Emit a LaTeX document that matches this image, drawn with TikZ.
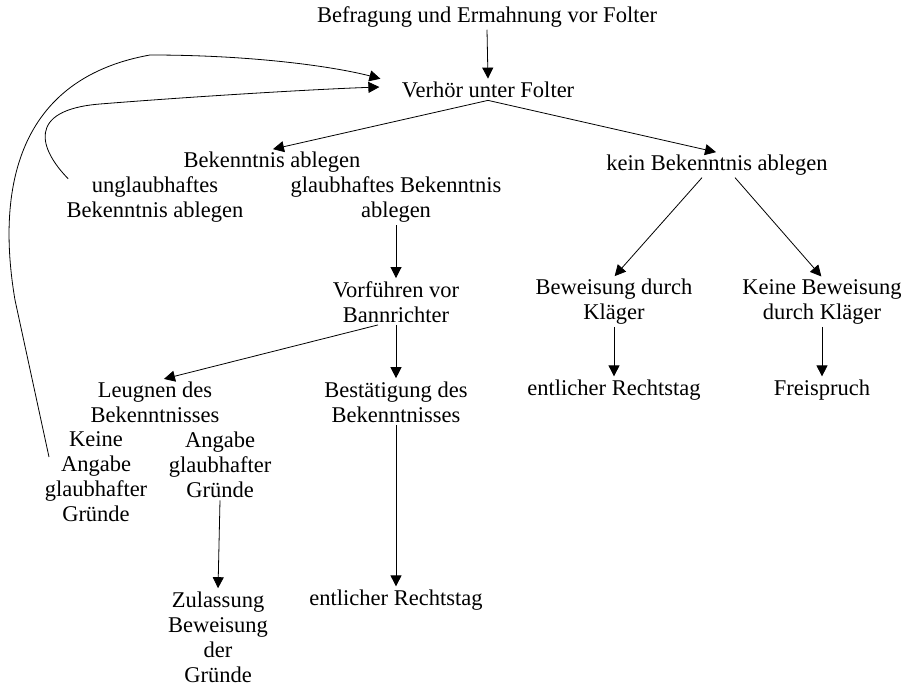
\documentclass[tikz,border=0pt]{standalone}
\usepackage{fontspec}
\setmainfont{Liberation Serif}
\usetikzlibrary{arrows.meta}

\begin{document}
\begin{tikzpicture}[>={Triangle[length=11pt,width=11pt]}, x=1pt, y=-1pt,
                    shorten >=1pt, line width=0.8pt,
                    every node/.style={align=center, inner sep=2pt, font=\fontsize{22.5}{25}\selectfont}]
                    \useasboundingbox (0,0) rectangle (907,687);

                    \node (befr) at (487,17) {Befragung und Ermahnung vor Folter};
                    \node (verh) at (488,90) {Verhör unter Folter};
                    \node (bek) at (272,162) {Bekenntnis ablegen};
                    \node (ungl) at (155,200) {unglaubhaftes\\Bekenntnis ablegen};
                    \node (glaub) at (396,200) {glaubhaftes Bekenntnis\\ablegen};
                    \node (vor) at (396,302) {Vorführen vor\\Bannrichter};
                    \node (leug) at (155,402) {Leugnen des\\Bekenntnisses};
                    \node (best) at (396,402) {Bestätigung des\\Bekenntnisses};
                    \node (keine) at (96,477) {Keine\\Angabe\\glaubhafter\\Gründe};
                    \node (angabe) at (220,465) {Angabe\\glaubhafter\\Gründe};
                    \node (zul) at (218,637) {Zulassung\\Beweisung\\der\\Gründe};
                    \node (rt1) at (396,600) {entlicher Rechtstag};
                    \node (kein) at (717,165) {kein Bekenntnis ablegen};
                    \node (bew) at (614,302) {Beweisung durch\\Kläger};
                    \node (kbew) at (822,302) {Keine Beweisung\\durch Kläger};
                    \node (rt2) at (614,390) {entlicher Rechtstag};
                    \node (frei) at (822,390) {Freispruch};

                    \path[->]
                    (befr.south) edge (verh.north)
                    (verh.south) edge (bek.north)
                                 edge (kein.north)
                    (glaub.south) edge (vor.north)
                    (vor.south) edge (best.north)
                    ([xshift=-18pt]vor.south) edge ([xshift=8pt]leug.north)
                    (angabe.south) edge (zul.north)
                    (best.south) edge (rt1.north)
                    ([xshift=-15pt]kein.south) edge (bew.north)
                    ([xshift=18pt]kein.south) edge (kbew.north)
                    (bew.south) edge (rt2.north)
                    (kbew.south) edge (frei.north);

                    % back to the torture
                    \draw[->] ([xshift=-47pt,yshift=20pt]keine.center) -- (15,300)
                        .. controls (-2,200) and (10,80) .. (150,55)
                        .. controls (260,55) and (340,68) .. ([xshift=-18pt,yshift=11pt]verh.west);
                    \draw[->] ([xshift=4pt,yshift=-4pt]ungl.north west)
                        .. controls (40,150) and (25,110) .. (100,104)
                        .. controls (200,96) and (320,89) .. ([xshift=-19pt,yshift=3pt]verh.west);
                \end{tikzpicture}
\end{document}
